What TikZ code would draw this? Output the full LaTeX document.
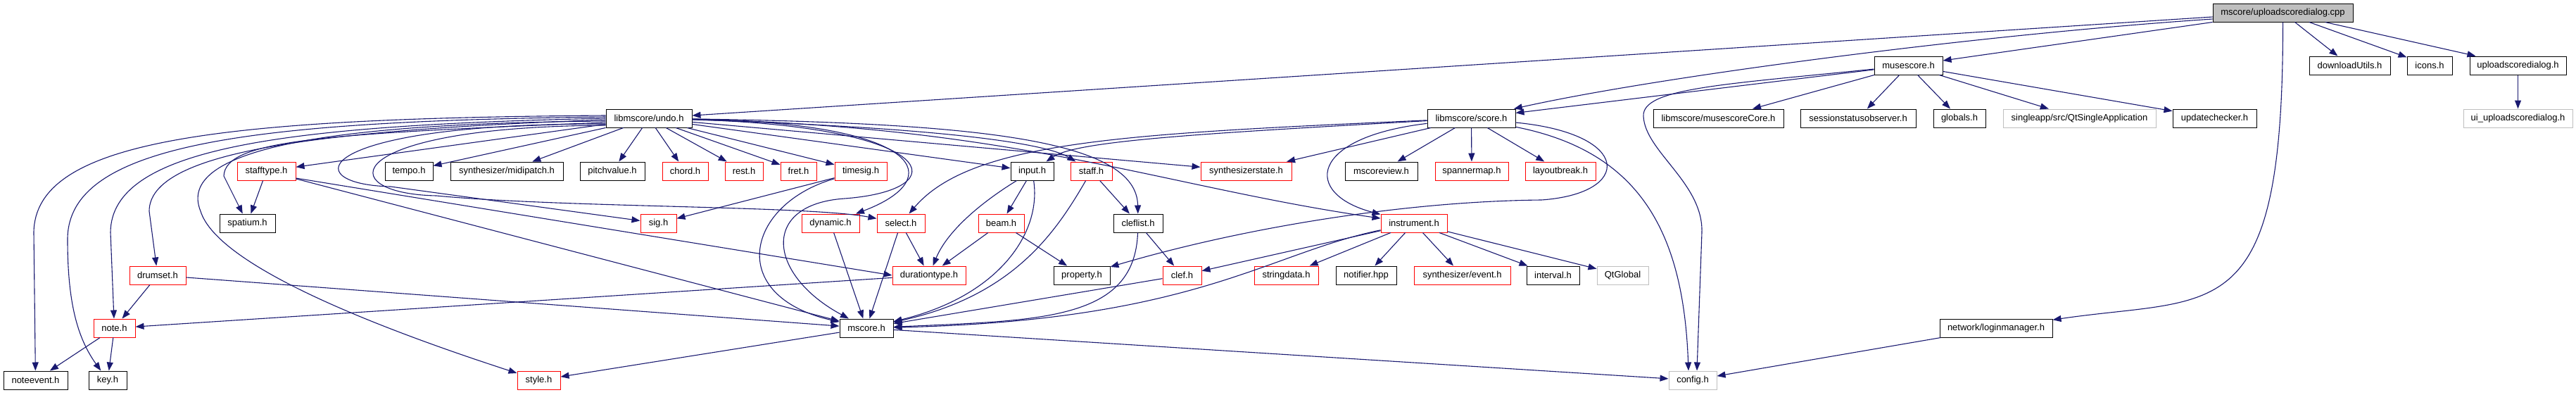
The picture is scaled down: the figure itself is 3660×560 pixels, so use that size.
\documentclass[tikz,border=0pt]{standalone}
\usepackage{fontspec}
\setmainfont{Liberation Sans}
\usepackage{tikz}
\usetikzlibrary{arrows.meta}
\definecolor{edgeblue}{RGB}{25,25,112}
\definecolor{extgrey}{RGB}{191,191,191}

\begin{document}
\begin{tikzpicture}[x=1pt, y=-1pt,
    hdr/.style={draw=black, fill=white, rectangle, line width=1pt, minimum height=26, inner sep=0pt,
        font=\fontsize{13}{15}\selectfont},
    hdrred/.style={hdr, draw=red},
    hdrext/.style={hdr, draw=extgrey},
    hdrroot/.style={hdr, fill=extgrey},
    incl/.style={draw=edgeblue, line width=1.1pt, -{Triangle[length=12pt, width=9pt]}}]
    \useasboundingbox (0,0) rectangle (3660,560);

    % Source file
    \node[hdrroot, minimum width=199] (cpp) at (3243.5, 18) {mscore/uploadscoredialog.cpp};

    % Row 1
    \node[hdr, minimum width=97] (musescore) at (2711.5, 93) {musescore.h};
    \node[hdr, minimum width=115] (downloadutils) at (3338.5, 93) {downloadUtils.h};
    \node[hdr, minimum width=64] (icons) at (3452, 93) {icons.h};
    \node[hdr, minimum width=137] (uploaddlg) at (3577.5, 93) {uploadscoredialog.h};

    % Row 2
    \node[hdr, minimum width=122] (undo) at (922, 168) {libmscore/undo.h};
    \node[hdr, minimum width=125] (score) at (2090.5, 168) {libmscore/score.h};
    \node[hdr, minimum width=185] (musecore) at (2441.5, 168) {libmscore/musescoreCore.h};
    \node[hdr, minimum width=164] (session) at (2640, 168) {sessionstatusobserver.h};
    \node[hdr, minimum width=74] (globals) at (2784, 168) {globals.h};
    \node[hdrext, minimum width=217] (singleapp) at (2954.5, 168) {singleapp/src/QtSingleApplication};
    \node[hdr, minimum width=119] (updatechk) at (3146.5, 168) {updatechecker.h};
    \node[hdrext, minimum width=155] (uiupload) at (3577.5, 168) {ui\_uploadscoredialog.h};

    % Row 3
    \node[hdrred, minimum width=83] (stafftype) at (378.5, 243) {stafftype.h};
    \node[hdr, minimum width=68] (tempo) at (581, 243) {tempo.h};
    \node[hdr, minimum width=160] (midipatch) at (720, 243) {synthesizer/midipatch.h};
    \node[hdr, minimum width=92] (pitchvalue) at (870, 243) {pitchvalue.h};
    \node[hdrred, minimum width=65] (chord) at (973.5, 243) {chord.h};
    \node[hdrred, minimum width=54] (rest) at (1057, 243) {rest.h};
    \node[hdrred, minimum width=51] (fret) at (1134.5, 243) {fret.h};
    \node[hdrred, minimum width=74] (timesig) at (1223, 243) {timesig.h};
    \node[hdr, minimum width=61] (input) at (1466.5, 243) {input.h};
    \node[hdrred, minimum width=59] (staff) at (1550.5, 243) {staff.h};
    \node[hdrred, minimum width=129] (synthstate) at (1770.5, 243) {synthesizerstate.h};
    \node[hdr, minimum width=103] (mscoreview) at (1962.5, 243) {mscoreview.h};
    \node[hdrred, minimum width=104] (spannermap) at (2091, 243) {spannermap.h};
    \node[hdrred, minimum width=100] (layoutbreak) at (2217, 243) {layoutbreak.h};

    % Row 4
    \node[hdr, minimum width=79] (spatium) at (351.5, 317) {spatium.h};
    \node[hdrred, minimum width=51] (sig) at (935.5, 317) {sig.h};
    \node[hdrred, minimum width=82] (dynamic) at (1180, 317) {dynamic.h};
    \node[hdrred, minimum width=68] (select) at (1280, 317) {select.h};
    \node[hdrred, minimum width=65] (beam) at (1422.5, 317) {beam.h};
    \node[hdr, minimum width=70] (cleflist) at (1617, 317) {cleflist.h};
    \node[hdrred, minimum width=94] (instrument) at (2009, 317) {instrument.h};

    % Row 5
    \node[hdrred, minimum width=80] (drumset) at (224, 391) {drumset.h};
    \node[hdrred, minimum width=104] (durationtype) at (1320, 391) {durationtype.h};
    \node[hdr, minimum width=80] (property) at (1537, 391) {property.h};
    \node[hdrred, minimum width=55] (clef) at (1679.5, 391) {clef.h};
    \node[hdrred, minimum width=91] (stringdata) at (1827.5, 391) {stringdata.h};
    \node[hdr, minimum width=86] (notifier) at (1941, 391) {notifier.hpp};
    \node[hdrred, minimum width=137] (event) at (2077.5, 391) {synthesizer/event.h};
    \node[hdr, minimum width=75] (interval) at (2206.5, 391) {interval.h};
    \node[hdrext, minimum width=73] (qtglobal) at (2305.5, 391) {QtGlobal};

    % Row 6
    \node[hdrred, minimum width=59] (note) at (162.5, 466) {note.h};
    \node[hdr, minimum width=76] (mscore) at (1231, 466) {mscore.h};
    \node[hdr, minimum width=160] (loginmgr) at (2836, 466) {network/loginmanager.h};

    % Row 7
    \node[hdr, minimum width=91] (noteevent) at (50.5, 540) {noteevent.h};
    \node[hdr, minimum width=54] (key) at (153, 540) {key.h};
    \node[hdrred, minimum width=61] (style) at (765.5, 540) {style.h};
    \node[hdrext, minimum width=68] (config) at (2405, 540) {config.h};

    % uploadscoredialog.cpp
    \draw[incl] ([yshift=-6pt]cpp.west) -- (undo);
    \draw[incl] ([yshift=-9pt]cpp.west) .. controls (2800,50) and (2350,110) .. (score);
    \draw[incl] (cpp.south west) -- (musescore);
    \draw[incl] (cpp) -- (downloadutils);
    \draw[incl] (cpp) -- (icons);
    \draw[incl] (cpp) -- (uploaddlg);
    \draw[incl] (cpp) .. controls (3244,470) and (3150,420) .. (loginmgr);
    \draw[incl] (uploaddlg) -- (uiupload);

    % musescore.h
    \draw[incl] (musescore) -- (score);
    \draw[incl] (musescore) -- (musecore);
    \draw[incl] (musescore) -- (session);
    \draw[incl] (musescore) -- (globals);
    \draw[incl] (musescore) -- (singleapp);
    \draw[incl] (musescore) -- (updatechk);
    \draw[incl] (musescore) .. controls (2450,120) and (2333,125) .. (2335,165)
        .. controls (2337,215) and (2420,260) .. (2418,330) -- ([xshift=6pt]config.north);

    % libmscore/undo.h
    \draw[incl] (undo) -- (stafftype);
    \draw[incl] (undo) -- (tempo);
    \draw[incl] (undo) -- (midipatch);
    \draw[incl] (undo) -- (pitchvalue);
    \draw[incl] (undo) -- (chord);
    \draw[incl] (undo) -- (rest);
    \draw[incl] (undo) -- (fret);
    \draw[incl] (undo) -- (timesig);
    \draw[incl] (undo) -- (input);
    \draw[incl] (undo) .. controls (1300,180) and (1480,200) .. (staff);
    \draw[incl] (undo) -- (synthstate);
    \draw[incl] (undo) .. controls (1400,175) and (1615,200) .. (cleflist);
    \draw[incl] (undo) .. controls (1450,180) and (1650,265) .. (instrument);
    \draw[incl] (undo) .. controls (1320,175) and (1345,255) .. (dynamic);
    \draw[incl] (undo) .. controls (1340,180) and (1360,270) .. (1200,282)
        .. controls (1080,290) and (1090,390) .. (mscore);
    \draw[incl] ([yshift=4pt]undo.west) .. controls (300,168) and (50,200) .. (48,330) -- (noteevent);
    \draw[incl] ([yshift=2pt]undo.west) .. controls (350,172) and (96,205) .. (96,340)
        .. controls (96,430) and (110,480) .. (key);
    \draw[incl] (undo.west) .. controls (400,178) and (158,210) .. (157,330) -- (note);
    \draw[incl] ([yshift=-2pt]undo.west) .. controls (450,185) and (212,215) .. (212,300) -- (drumset);
    \draw[incl] ([yshift=-4pt]undo.west) .. controls (450,175) and (250,215) .. (285,300)
        .. controls (310,380) and (550,470) .. (style);
    \draw[incl] ([yshift=-6pt]undo.west) .. controls (450,190) and (320,200) .. (318,250) -- (spatium);
    \draw[incl] ([yshift=-8pt]undo.west) .. controls (440,175) and (420,262) .. (555,265) -- (sig);
    \draw[incl] ([yshift=-10pt]undo.west) .. controls (480,180) and (470,275) .. (620,278)
        .. controls (800,295) and (1150,292) .. (select);

    % libmscore/score.h
    \draw[incl] (score) .. controls (1700,190) and (1530,200) .. (input);
    \draw[incl] (score) .. controls (1600,190) and (1380,200) .. (select);
    \draw[incl] (score) -- (synthstate);
    \draw[incl] (score) -- (mscoreview);
    \draw[incl] (score) -- (spannermap);
    \draw[incl] (score) -- (layoutbreak);
    \draw[incl] (score) .. controls (1860,195) and (1850,275) .. (instrument);
    \draw[incl] (score) .. controls (2320,190) and (2320,275) .. (2190,284)
        .. controls (1990,286) and (1760,325) .. (property);
    \draw[incl] (score) .. controls (2330,215) and (2392,330) .. ([xshift=-6pt]config.north);

    % instrument.h
    \draw[incl] (instrument) -- (clef);
    \draw[incl] (instrument) .. controls (1800,360) and (1700,455) .. (mscore);
    \draw[incl] (instrument) -- (stringdata);
    \draw[incl] (instrument) -- (notifier);
    \draw[incl] (instrument) -- (event);
    \draw[incl] (instrument) -- (interval);
    \draw[incl] (instrument) -- (qtglobal);

    % stafftype.h, timesig.h
    \draw[incl] (stafftype) -- (spatium);
    \draw[incl] ([yshift=-10pt]stafftype.east) -- (durationtype.west);
    \draw[incl] (stafftype) -- (mscore);
    \draw[incl] (timesig) -- (sig);
    \draw[incl] (timesig) .. controls (1060,290) and (1030,420) .. (mscore);

    % input.h, staff.h, cleflist.h
    \draw[incl] (input) -- (beam);
    \draw[incl] (input) .. controls (1390,290) and (1345,330) .. (durationtype);
    \draw[incl] (input) .. controls (1480,330) and (1420,420) .. (mscore);
    \draw[incl] (staff) -- (cleflist);
    \draw[incl] (staff) .. controls (1500,330) and (1440,420) .. (mscore);
    \draw[incl] (cleflist) -- (clef);
    \draw[incl] (cleflist) .. controls (1612,455) and (1480,455) .. (mscore);
    \draw[incl] (clef) -- (mscore);

    % select.h, beam.h, dynamic.h
    \draw[incl] (select) -- (durationtype);
    \draw[incl] (select) -- (mscore);
    \draw[incl] (beam) -- (durationtype);
    \draw[incl] (beam) -- (property);
    \draw[incl] (dynamic) -- (mscore);

    % lower rows
    \draw[incl] (durationtype) -- (note);
    \draw[incl] (drumset) -- (note);
    \draw[incl] (drumset) -- (mscore);
    \draw[incl] (note) -- (noteevent);
    \draw[incl] (note) -- (key);
    \draw[incl] (mscore) -- (style);
    \draw[incl] (mscore) -- (config);
    \draw[incl] (loginmgr) -- (config);

\end{tikzpicture}
\end{document}
